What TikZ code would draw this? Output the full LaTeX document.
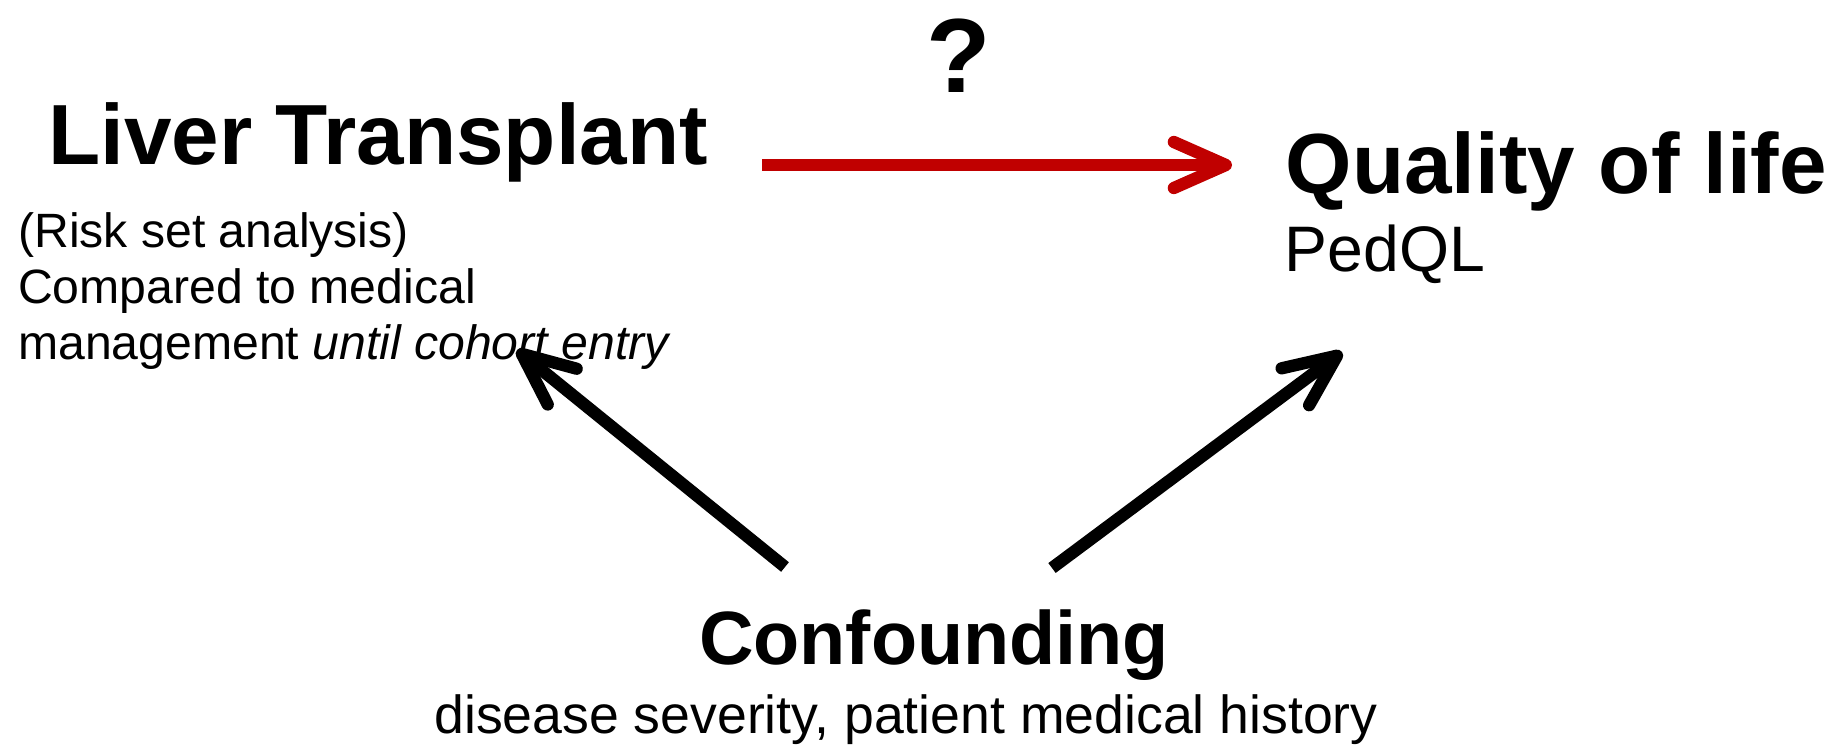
\documentclass[tikz,border=0pt]{standalone}
\usepackage{fontspec}
\setmainfont{Liberation Sans}
\usetikzlibrary{arrows.meta}
\definecolor{darkred}{RGB}{192,0,0}

\begin{document}
\begin{tikzpicture}[
    title/.style={inner sep=0pt, font=\fontsize{24.3}{29}\selectfont\bfseries},
    sub/.style={inner sep=0pt, font=\fontsize{13.7}{15.9}\selectfont},
    link/.style={line width=3.5pt, -{Straight Barb[length=5.2mm,width=4.6mm,round]}}
  ]
    \useasboundingbox (0,0) rectangle (18.34,7.47);
    % the three variables
    \node[title, anchor=base west] (lt) at (0.475,5.82) {Liver Transplant};
    \node[sub, anchor=base west, align=left] (ltsub) at (0.175,3.88)
        {(Risk set analysis)\\Compared to medical\\management \textit{until cohort entry}};
    \node[title, anchor=base west] (qol) at (12.85,5.54) {Quality of life};
    \node[inner sep=0pt, font=\fontsize{18.3}{22}\selectfont, anchor=base west] (ped) at (12.84,4.76) {PedQL};
    \node[inner sep=0pt, font=\fontsize{21.5}{26}\selectfont\bfseries, anchor=base] (conf) at (9.34,0.83) {Confounding};
    \node[inner sep=0pt, font=\fontsize{15.25}{18}\selectfont, anchor=base] (confsub) at (9.06,0.14)
        {disease severity, patient medical history};
    \node[inner sep=0pt, font=\fontsize{30}{36}\selectfont\bfseries, anchor=base] (q) at (9.59,6.54) {?};
    % arrow ends
    \coordinate (lt-out) at (7.62,5.82);
    \coordinate (qol-in) at (12.32,5.82);
    \coordinate (conf-l) at (7.85,1.80);
    \coordinate (lt-in) at (5.17,3.97);
    \coordinate (conf-r) at (10.52,1.79);
    \coordinate (qol-in2) at (13.42,3.95);
    \draw[link, darkred] (lt-out) -- (qol-in);
    \draw[link] (conf-l) -- (lt-in);
    \draw[link] (conf-r) -- (qol-in2);
\end{tikzpicture}
\end{document}
